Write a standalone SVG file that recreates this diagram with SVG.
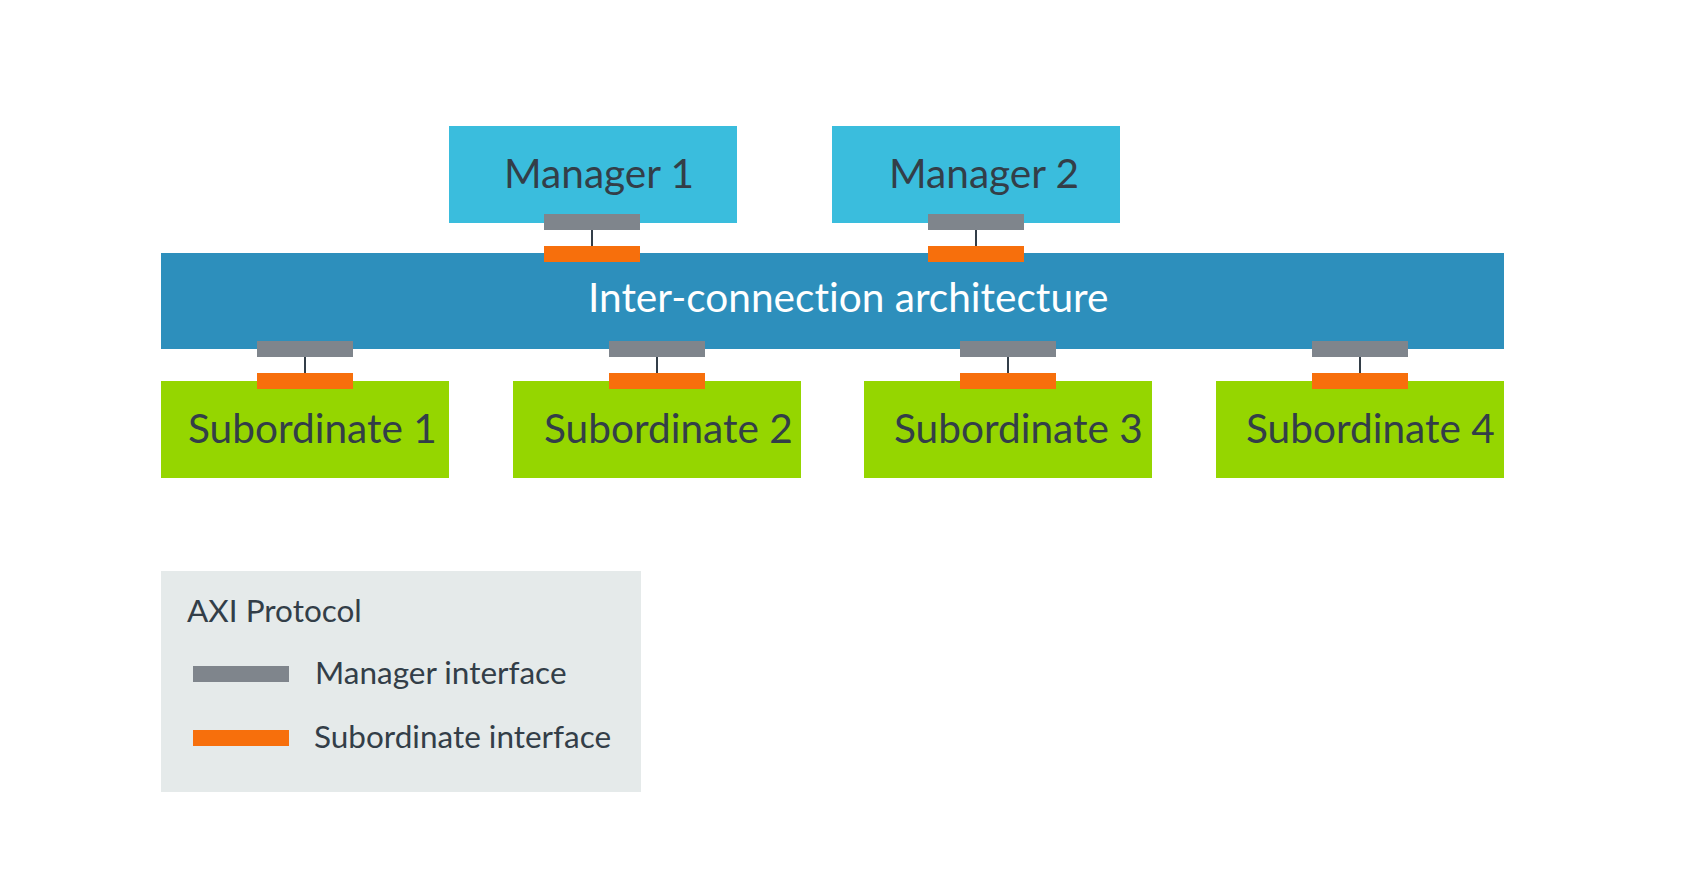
<svg xmlns="http://www.w3.org/2000/svg" width="1692" height="872" viewBox="0 0 1692 872">
<style>
.mgr{fill:#3abddd}
.bus{fill:#2d8fbc}
.sub{fill:#95d600}
.mi{fill:#7f858c}
.si{fill:#f76f0c}
.lbl{font-family:Lato,"Liberation Sans",sans-serif;font-size:40.6px;fill:#333e48;font-variant-ligatures:none}
.leg{font-family:Lato,"Liberation Sans",sans-serif;font-size:31.5px;fill:#333e48;font-variant-ligatures:none}
.wire{stroke:#333e48;stroke-width:2}
</style>
<rect width="1692" height="872" fill="#ffffff"/>
<g id="bus">
<rect class="bus" x="161" y="253" width="1343" height="96"/>
<text x="588" y="312" class="lbl" style="fill:#ffffff">Inter-connection architecture</text>
</g>
<g id="manager1">
<rect class="mgr" x="449" y="126" width="288" height="97"/>
<text x="504" y="188" class="lbl">Manager 1</text>
</g>
<g id="manager2">
<rect class="mgr" x="832" y="126" width="288" height="97"/>
<text x="889" y="188" class="lbl">Manager 2</text>
</g>
<g id="sub1">
<rect class="sub" x="161" y="381" width="288" height="97"/>
<text x="188" y="443" class="lbl">Subordinate 1</text>
</g>
<g id="sub2">
<rect class="sub" x="513" y="381" width="288" height="97"/>
<text x="544" y="443" class="lbl">Subordinate 2</text>
</g>
<g id="sub3">
<rect class="sub" x="864" y="381" width="288" height="97"/>
<text x="894" y="443" class="lbl">Subordinate 3</text>
</g>
<g id="sub4">
<rect class="sub" x="1216" y="381" width="288" height="97"/>
<text x="1246" y="443" class="lbl">Subordinate 4</text>
</g>
<g id="connectors">
<line class="wire" x1="592" y1="230" x2="592" y2="246"/>
<line class="wire" x1="976" y1="230" x2="976" y2="246"/>
<line class="wire" x1="305" y1="357" x2="305" y2="373"/>
<line class="wire" x1="657" y1="357" x2="657" y2="373"/>
<line class="wire" x1="1008" y1="357" x2="1008" y2="373"/>
<line class="wire" x1="1360" y1="357" x2="1360" y2="373"/>
<rect class="mi" x="544" y="214" width="96" height="16"/>
<rect class="si" x="544" y="246" width="96" height="16"/>
<rect class="mi" x="928" y="214" width="96" height="16"/>
<rect class="si" x="928" y="246" width="96" height="16"/>
<rect class="mi" x="257" y="341" width="96" height="16"/>
<rect class="si" x="257" y="373" width="96" height="16"/>
<rect class="mi" x="609" y="341" width="96" height="16"/>
<rect class="si" x="609" y="373" width="96" height="16"/>
<rect class="mi" x="960" y="341" width="96" height="16"/>
<rect class="si" x="960" y="373" width="96" height="16"/>
<rect class="mi" x="1312" y="341" width="96" height="16"/>
<rect class="si" x="1312" y="373" width="96" height="16"/>
</g>
<g id="legend">
<rect x="161" y="571" width="480" height="221" fill="#e5eaea"/>
<text x="187" y="622" class="leg">AXI Protocol</text>
<rect class="mi" x="193" y="666" width="96" height="16"/>
<text x="315" y="684" class="leg">Manager interface</text>
<rect class="si" x="193" y="730" width="96" height="16"/>
<text x="314" y="748" class="leg">Subordinate interface</text>
</g>
</svg>
